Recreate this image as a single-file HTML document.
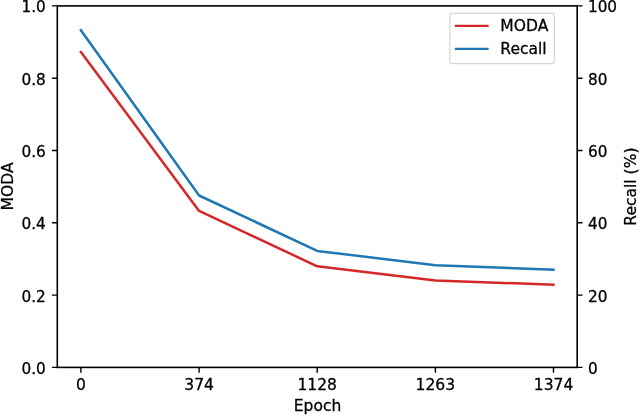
<!DOCTYPE html>
<html><head><meta charset="utf-8"><title>MODA / Recall vs Epoch</title>
<style>
html,body{margin:0;padding:0;background:#fff;}
body{width:640px;height:416px;overflow:hidden;}
svg{display:block;will-change:transform;transform:translateZ(0);}
text{font-family:"DejaVu Sans","Liberation Sans",sans-serif;font-size:15px;fill:#000;stroke:#000;stroke-width:0.28px;}
</style></head><body>
<svg width="640" height="416" viewBox="0 0 640 416">
<rect width="640" height="416" fill="#fff"/>
<g fill="none" stroke-width="2.5" stroke-linecap="square" stroke-linejoin="round">
<polyline stroke="#d62728" points="80.9,51.9 199.1,210.9 317.2,266.3 435.4,280.4 553.5,284.8"/>
<polyline stroke="#1f77b4" points="80.9,30.3 199.1,195.5 317.2,250.9 435.4,265.2 553.5,269.6"/>
</g>
<rect x="57.3" y="5.9" width="519.9" height="361.5" fill="none" stroke="#000" stroke-width="1.6"/>
<g stroke="#000" stroke-width="1.4">
<path d="M80.9 367.4v5.4M199.1 367.4v5.4M317.2 367.4v5.4M435.4 367.4v5.4M553.5 367.4v5.4"/>
<path d="M57.3 367.4h-5.4M57.3 295.1h-5.4M57.3 222.8h-5.4M57.3 150.5h-5.4M57.3 78.2h-5.4M57.3 5.9h-5.4"/>
<path d="M577.15 367.4h5.4M577.15 295.1h5.4M577.15 222.8h5.4M577.15 150.5h5.4M577.15 78.2h5.4M577.15 5.9h5.4"/>
</g>
<text transform="translate(80.93,389.90) scale(1.037,1)" text-anchor="middle">0</text>
<text transform="translate(199.08,389.90) scale(1.037,1)" text-anchor="middle">374</text>
<text transform="translate(317.23,389.90) scale(1.037,1)" text-anchor="middle">1128</text>
<text transform="translate(435.37,389.90) scale(1.037,1)" text-anchor="middle">1263</text>
<text transform="translate(553.52,389.90) scale(1.037,1)" text-anchor="middle">1374</text>
<text transform="translate(317.50,410.70) scale(1.037,1)" text-anchor="middle">Epoch</text>
<text transform="translate(45.80,373.70) scale(1.02,1)" text-anchor="end">0.0</text>
<text transform="translate(45.80,301.50) scale(1.02,1)" text-anchor="end">0.2</text>
<text transform="translate(45.80,229.20) scale(1.02,1)" text-anchor="end">0.4</text>
<text transform="translate(45.80,156.90) scale(1.02,1)" text-anchor="end">0.6</text>
<text transform="translate(45.80,84.50) scale(1.02,1)" text-anchor="end">0.8</text>
<text transform="translate(45.80,11.60) scale(1.02,1)" text-anchor="end">1.0</text>
<text transform="translate(587.90,373.70) scale(1.02,1)" text-anchor="start">0</text>
<text transform="translate(587.90,301.50) scale(1.02,1)" text-anchor="start">20</text>
<text transform="translate(587.90,229.20) scale(1.02,1)" text-anchor="start">40</text>
<text transform="translate(587.90,156.90) scale(1.02,1)" text-anchor="start">60</text>
<text transform="translate(587.90,84.50) scale(1.02,1)" text-anchor="start">80</text>
<text transform="translate(587.90,11.60) scale(1.02,1)" text-anchor="start">100</text>
<text transform="translate(12.70,186.40) rotate(-90) scale(1.037,1)" text-anchor="middle">MODA</text>
<text transform="translate(636.30,186.60) rotate(-90) scale(1.037,1)" text-anchor="middle">Recall (%)</text>
<rect x="449.8" y="13.3" width="104.6" height="50.3" rx="2.4" ry="2.4" fill="#fff" fill-opacity="0.8" stroke="#ccc" stroke-opacity="0.8" stroke-width="1.2"/>
<path d="M456.0 25.8H487.5" stroke="#d62728" stroke-width="2.3" stroke-linecap="square"/>
<path d="M456.0 48.8H487.5" stroke="#1f77b4" stroke-width="2.3" stroke-linecap="square"/>
<text transform="translate(500.30,31.40) scale(1.037,1)" text-anchor="start">MODA</text>
<text transform="translate(500.30,54.30) scale(1.037,1)" text-anchor="start">Recall</text>
</svg>
</body></html>
